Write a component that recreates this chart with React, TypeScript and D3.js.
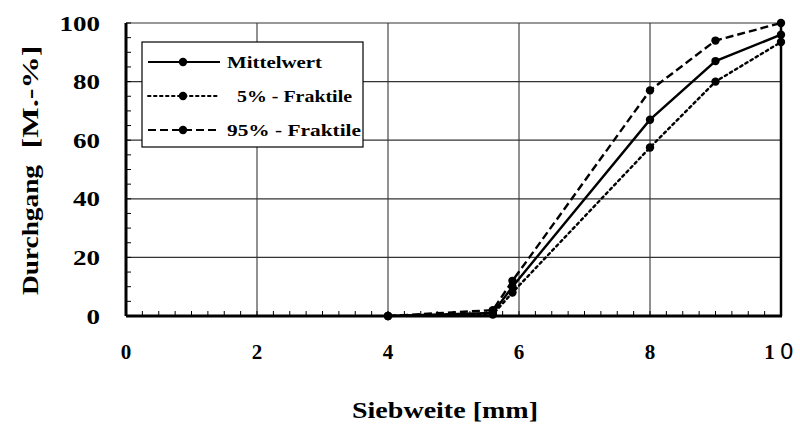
import React from 'react'
import * as d3 from 'd3'

const sieve = [4, 5.6, 5.9, 8, 9, 10]
const mittelwert = [0, 1, 10, 67, 87, 96]
const fraktil5 = [0, 0.5, 8, 57.5, 80, 93.5]
const fraktil95 = [0, 2, 12, 77, 94, 100]
const xTicks = [0, 2, 4, 6, 8]
const yTicks = [0, 20, 40, 60, 80, 100]

const series = [
  { name: 'Mittelwert', values: mittelwert, dash: 'none', label: 'Mittelwert', indent: 0 },
  { name: '5%', values: fraktil5, dash: '2.5,3.5', label: '5% - Fraktile', indent: 10 },
  { name: '95%', values: fraktil95, dash: '8,4', label: '95% - Fraktile', indent: 0 },
]

const serif = "'Liberation Serif', 'DejaVu Serif', serif"

export default function App() {
  const width = 800, height = 424
  const m = { left: 126, right: 19, top: 23, bottom: 108 }
  const x = d3.scaleLinear().domain([0, 10]).range([m.left, width - m.right])
  const y = d3.scaleLinear().domain([0, 100]).range([height - m.bottom, m.top])

  const line = d3.line<number>().x((_, i) => x(sieve[i])).y(d => y(d))

  const minorX = d3.range(0, 10.001, 0.25)
  const minorY = d3.range(0, 100.001, 5)
  const txt = { fontFamily: serif, fontWeight: 'bold' as const }

  return (
    <svg width={width} height={height} style={{ position: 'absolute', left: 0, top: 0, background: '#fff' }}>
      {/* grid */}
      {xTicks.slice(1).map(t => (
        <line key={'gx' + t} x1={x(t)} x2={x(t)} y1={y(0)} y2={y(100)} stroke="#222" strokeWidth={1} />
      ))}
      {yTicks.slice(1).map(t => (
        <line key={'gy' + t} x1={x(0)} x2={x(10)} y1={y(t)} y2={y(t)} stroke="#333" strokeWidth={1.2} />
      ))}
      {/* minor ticks, inward */}
      {minorX.map(t => (
        <line key={'mx' + t} x1={x(t)} x2={x(t)} y1={y(0)} y2={y(0) - 5} stroke="#000" strokeWidth={1} />
      ))}
      {minorY.map(t => (
        <line key={'my' + t} x1={x(0)} x2={x(0) + 5} y1={y(t)} y2={y(t)} stroke="#000" strokeWidth={1} />
      ))}
      {/* frame */}
      <line x1={x(10)} x2={x(10)} y1={y(0)} y2={y(100)} stroke="#000" strokeWidth={2.5} />
      <line x1={x(0)} x2={x(0)} y1={y(0)} y2={y(100)} stroke="#000" strokeWidth={3} />
      <line x1={x(0)} x2={x(10) + 1} y1={y(0)} y2={y(0)} stroke="#000" strokeWidth={3} />

      {/* series */}
      {series.map(s => (
        <g key={s.name}>
          <path d={line(s.values) || ''} fill="none" stroke="#000" strokeWidth={2.4}
            strokeDasharray={s.dash} strokeLinecap={s.name === '5%' ? 'round' : 'butt'} />
          {s.values.map((v, i) => (
            <circle key={i} cx={x(sieve[i])} cy={y(v)} r={4.2} fill="#000" />
          ))}
        </g>
      ))}

      {/* tick labels */}
      {yTicks.map(t => (
        <text key={'ly' + t} x={100} y={y(t)} dy="0.36em" textAnchor="end" fontSize={21}
          textLength={String(t).length * 13.5} lengthAdjust="spacingAndGlyphs" style={txt}>{t}</text>
      ))}
      {xTicks.map(t => (
        <text key={'lx' + t} x={x(t)} y={359} textAnchor="middle" fontSize={21} style={txt}>{t}</text>
      ))}
      <text x={x(10) - 2} y={359} textAnchor="middle" fontSize={21} style={txt}>
        1<tspan dx="5" fontWeight="normal" style={{ fontFamily: 'DejaVu Sans', fontWeight: 'normal' }} fontSize={22}>0</tspan>
      </text>

      {/* axis titles */}
      <text x={445} y={418} textAnchor="middle" fontSize={23} textLength={186} lengthAdjust="spacingAndGlyphs" style={txt}>Siebweite [mm]</text>
      <text transform={`translate(38,230) rotate(-90)`} textAnchor="middle" fontSize={23} textLength={130} lengthAdjust="spacingAndGlyphs" style={txt}>Durchgang</text>
      <text transform={`translate(38,97) rotate(-90)`} textAnchor="middle" fontSize={23} textLength={103} lengthAdjust="spacingAndGlyphs" style={txt}>[M.-%]</text>

      {/* legend */}
      <g>
        <rect x={142} y={42} width={221} height={105} fill="#fff" stroke="#000" strokeWidth={1.2} />
        {series.map((s, i) => {
          const ly = 62 + i * 34
          const labelW = [95, 115, 134][i]
          return (
            <g key={'lg' + s.name}>
              <line x1={148} x2={220} y1={ly} y2={ly} stroke="#000" strokeWidth={2}
                strokeDasharray={s.dash} strokeLinecap={s.name === '5%' ? 'round' : 'butt'} />
              <circle cx={183} cy={ly} r={4.2} fill="#000" />
              <text x={227 + s.indent} y={ly} dy="0.35em" fontSize={17}
                textLength={labelW} lengthAdjust="spacingAndGlyphs" style={txt}>{s.label}</text>
            </g>
          )
        })}
      </g>
    </svg>
  )
}
